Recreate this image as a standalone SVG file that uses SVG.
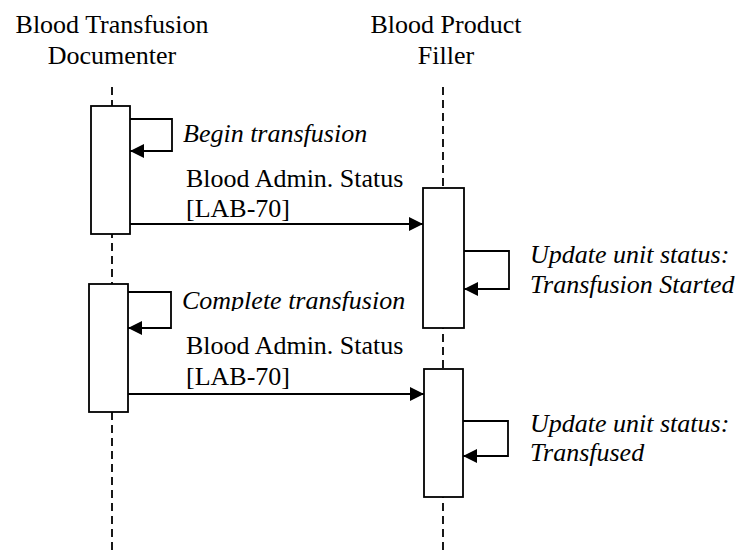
<svg xmlns="http://www.w3.org/2000/svg" width="742" height="550" viewBox="0 0 742 550">
<style>
.life{stroke:#000;stroke-width:1.8;stroke-dasharray:8 5;fill:none}
.box{fill:#fff;stroke:#000;stroke-width:1.8}
.msg{fill:none;stroke:#000;stroke-width:1.8}
</style>
<defs>
<marker id="ah" markerWidth="14" markerHeight="14" viewBox="0 0 14 14" refX="14" refY="7" orient="auto" markerUnits="userSpaceOnUse">
<path d="M0,0 L14,7 L0,14 Z" fill="#000"/>
</marker>
<clipPath id="clipC"><rect x="170" y="280" width="260" height="31"/></clipPath>
</defs>
<g id="documenter">
<text x="112" y="33" text-anchor="middle" font-family="Liberation Serif" font-size="26" style="font-family:'Liberation Serif';font-size:26px">Blood Transfusion</text>
<text x="112" y="64" text-anchor="middle" font-family="Liberation Serif" font-size="26" style="font-family:'Liberation Serif';font-size:26px">Documenter</text>
<line class="life" x1="112" y1="87" x2="112" y2="550"/>
</g>
<g id="filler">
<text x="446" y="33" text-anchor="middle" font-family="Liberation Serif" font-size="26" style="font-family:'Liberation Serif';font-size:26px">Blood Product</text>
<text x="446" y="64" text-anchor="middle" font-family="Liberation Serif" font-size="26" style="font-family:'Liberation Serif';font-size:26px">Filler</text>
<line class="life" x1="443" y1="87" x2="443" y2="550"/>
</g>
<g id="act-doc-1"><rect class="box" x="91" y="106" width="39" height="128"/></g>
<g id="act-doc-2"><rect class="box" x="89" y="284" width="39" height="128"/></g>
<g id="act-fill-1"><rect class="box" x="423" y="188" width="41" height="140"/></g>
<g id="act-fill-2"><rect class="box" x="424" y="369" width="39" height="128"/></g>
<g id="connectors">
<polyline class="msg" points="130,119 172,119 172,151 130,151" marker-end="url(#ah)"/>
<line class="msg" x1="130" y1="224" x2="423" y2="224" marker-end="url(#ah)"/>
<polyline class="msg" points="464,251 509,251 509,289 464,289" marker-end="url(#ah)"/>
<polyline class="msg" points="128,292 171,292 171,328 128,328" marker-end="url(#ah)"/>
<line class="msg" x1="128" y1="394" x2="424" y2="394" marker-end="url(#ah)"/>
<polyline class="msg" points="463,421 508,421 508,456 463,456" marker-end="url(#ah)"/>
</g>
<g id="labels">
<text x="183" y="142" font-family="Liberation Serif" font-size="26" font-style="italic" style="font-family:'Liberation Serif';font-size:26px;font-style:italic">Begin transfusion</text>
<text x="186" y="187" font-family="Liberation Serif" font-size="26" style="font-family:'Liberation Serif';font-size:26px">Blood Admin. Status</text>
<text x="186" y="217" font-family="Liberation Serif" font-size="26" style="font-family:'Liberation Serif';font-size:26px">[LAB-70]</text>
<text x="530" y="263" font-family="Liberation Serif" font-size="26" font-style="italic" style="font-family:'Liberation Serif';font-size:26px;font-style:italic">Update unit status:</text>
<text x="530" y="293" font-family="Liberation Serif" font-size="26" font-style="italic" style="font-family:'Liberation Serif';font-size:26px;font-style:italic">Transfusion Started</text>
<text x="182" y="309" clip-path="url(#clipC)" font-family="Liberation Serif" font-size="26" font-style="italic" style="font-family:'Liberation Serif';font-size:26px;font-style:italic">Complete transfusion</text>
<text x="186" y="354" font-family="Liberation Serif" font-size="26" style="font-family:'Liberation Serif';font-size:26px">Blood Admin. Status</text>
<text x="186" y="385" font-family="Liberation Serif" font-size="26" style="font-family:'Liberation Serif';font-size:26px">[LAB-70]</text>
<text x="530" y="432" font-family="Liberation Serif" font-size="26" font-style="italic" style="font-family:'Liberation Serif';font-size:26px;font-style:italic">Update unit status:</text>
<text x="530" y="461" font-family="Liberation Serif" font-size="26" font-style="italic" style="font-family:'Liberation Serif';font-size:26px;font-style:italic">Transfused</text>
</g>
</svg>
